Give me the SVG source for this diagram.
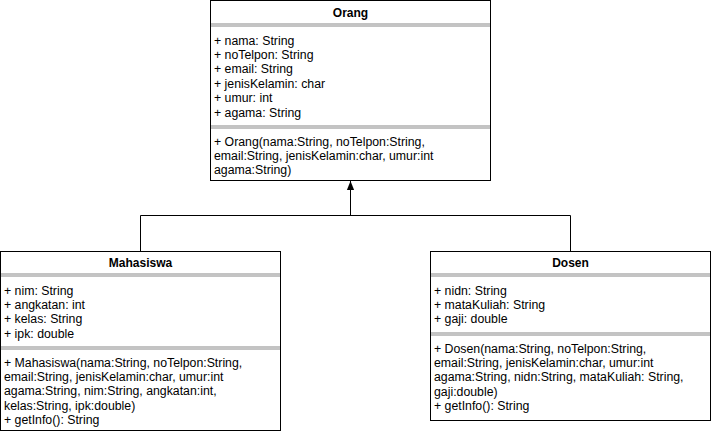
<svg xmlns="http://www.w3.org/2000/svg" width="711" height="432" viewBox="0 0 711 432">
<style>
.box{fill:#fff;stroke:#000;stroke-width:1}
.sepo{stroke:#888;stroke-width:3}
.sepi{stroke:#fff;stroke-width:1}
text{font-family:"Liberation Sans",Arial,Helvetica,sans-serif;font-size:12.3px;fill:#000}
.title{font-weight:bold;text-anchor:middle;font-size:12px}
.conn{fill:none;stroke:#000;stroke-width:1}
</style>
<defs>
<marker id="arr" viewBox="0 0 10 10" refX="10" refY="5" markerWidth="10" markerHeight="9" markerUnits="userSpaceOnUse" orient="auto">
<path d="M0,1 L10,5 L0,9 Z" fill="#000"/>
</marker>
</defs>
<rect width="711" height="432" fill="#fff"/>
<g id="connectors">
<path class="conn" d="M140.5,251 V215.5 H570.5 V251"/>
<path class="conn" d="M350.5,215.5 V181" marker-end="url(#arr)"/>
</g>
<g id="orang">
<rect class="box" x="210.5" y="0.5" width="280" height="180"/>
<line class="sepo" x1="211" y1="25" x2="490" y2="25"/><line class="sepi" x1="211" y1="25" x2="490" y2="25"/>
<line class="sepo" x1="211" y1="127" x2="490" y2="127"/><line class="sepi" x1="211" y1="127" x2="490" y2="127"/>
<text class="title" x="350.5" y="17">Orang</text>
<text x="214" y="44.5">+ nama: String</text>
<text x="214" y="58.9">+ noTelpon: String</text>
<text x="214" y="73.3">+ email: String</text>
<text x="214" y="87.7">+ jenisKelamin: char</text>
<text x="214" y="102.1">+ umur: int</text>
<text x="214" y="116.5">+ agama: String</text>
<text x="214" y="145.5">+ Orang(nama:String, noTelpon:String,</text>
<text x="214" y="159.9">email:String, jenisKelamin:char, umur:int</text>
<text x="214" y="174.3">agama:String)</text>
</g>
<g id="mahasiswa">
<rect class="box" x="0.5" y="251.5" width="280" height="179"/>
<line class="sepo" x1="1" y1="275" x2="280" y2="275"/><line class="sepi" x1="1" y1="275" x2="280" y2="275"/>
<line class="sepo" x1="1" y1="348" x2="280" y2="348"/><line class="sepi" x1="1" y1="348" x2="280" y2="348"/>
<text class="title" x="140.5" y="267">Mahasiswa</text>
<text x="4" y="294.5">+ nim: String</text>
<text x="4" y="308.9">+ angkatan: int</text>
<text x="4" y="323.3">+ kelas: String</text>
<text x="4" y="337.7">+ ipk: double</text>
<text x="4" y="366.5">+ Mahasiswa(nama:String, noTelpon:String,</text>
<text x="4" y="380.9">email:String, jenisKelamin:char, umur:int</text>
<text x="4" y="395.3">agama:String, nim:String, angkatan:int,</text>
<text x="4" y="409.7">kelas:String, ipk:double)</text>
<text x="4" y="424.1">+ getInfo(): String</text>
</g>
<g id="dosen">
<rect class="box" x="430.5" y="251.5" width="280" height="169"/>
<line class="sepo" x1="431" y1="275" x2="710" y2="275"/><line class="sepi" x1="431" y1="275" x2="710" y2="275"/>
<line class="sepo" x1="431" y1="334" x2="710" y2="334"/><line class="sepi" x1="431" y1="334" x2="710" y2="334"/>
<text class="title" x="570.5" y="267">Dosen</text>
<text x="434" y="294.5">+ nidn: String</text>
<text x="434" y="308.9">+ mataKuliah: String</text>
<text x="434" y="323.3">+ gaji: double</text>
<text x="434" y="352.5">+ Dosen(nama:String, noTelpon:String,</text>
<text x="434" y="366.9">email:String, jenisKelamin:char, umur:int</text>
<text x="434" y="381.3">agama:String, nidn:String, mataKuliah: String,</text>
<text x="434" y="395.7">gaji:double)</text>
<text x="434" y="410.1">+ getInfo(): String</text>
</g>
</svg>
